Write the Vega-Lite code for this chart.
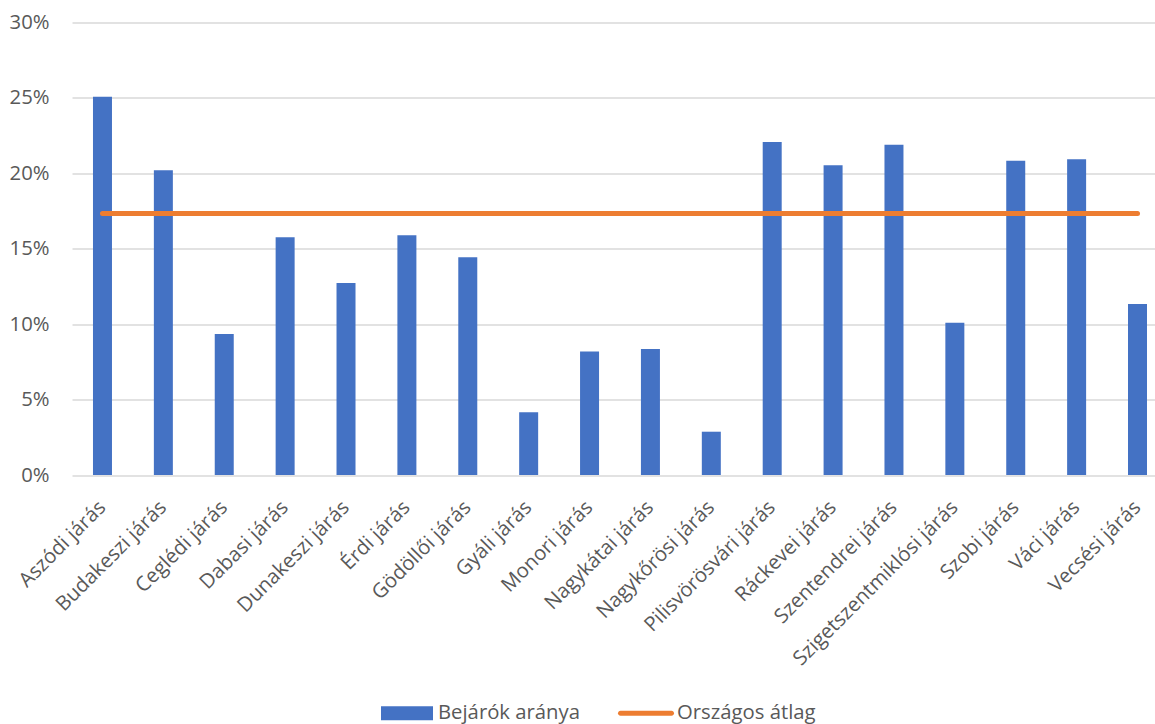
{
  "$schema": "https://vega.github.io/schema/vega-lite/v6.json",
  "width": 1083,
  "height": 452.5,
  "autosize": "none",
  "padding": {"left": 72, "top": 22.5, "right": 0, "bottom": 249},
  "background": "white",
  "config": {"view": {"stroke": null}, "font": "Open Sans"},
  "data": {"values": [
    {"jaras": "Aszódi járás", "bejarok": 0.2507, "atlag": 0.1733},
    {"jaras": "Budakeszi járás", "bejarok": 0.2020, "atlag": 0.1733},
    {"jaras": "Ceglédi járás", "bejarok": 0.0935, "atlag": 0.1733},
    {"jaras": "Dabasi járás", "bejarok": 0.1576, "atlag": 0.1733},
    {"jaras": "Dunakeszi járás", "bejarok": 0.1273, "atlag": 0.1733},
    {"jaras": "Érdi járás", "bejarok": 0.1590, "atlag": 0.1733},
    {"jaras": "Gödöllői járás", "bejarok": 0.1443, "atlag": 0.1733},
    {"jaras": "Gyáli járás", "bejarok": 0.0416, "atlag": 0.1733},
    {"jaras": "Monori járás", "bejarok": 0.0818, "atlag": 0.1733},
    {"jaras": "Nagykátai járás", "bejarok": 0.0836, "atlag": 0.1733},
    {"jaras": "Nagykőrösi járás", "bejarok": 0.0287, "atlag": 0.1733},
    {"jaras": "Pilisvörösvári járás", "bejarok": 0.2208, "atlag": 0.1733},
    {"jaras": "Ráckevei járás", "bejarok": 0.2053, "atlag": 0.1733},
    {"jaras": "Szentendrei járás", "bejarok": 0.2190, "atlag": 0.1733},
    {"jaras": "Szigetszentmiklósi járás", "bejarok": 0.1010, "atlag": 0.1733},
    {"jaras": "Szobi járás", "bejarok": 0.2084, "atlag": 0.1733},
    {"jaras": "Váci járás", "bejarok": 0.2093, "atlag": 0.1733},
    {"jaras": "Vecsési járás", "bejarok": 0.1134, "atlag": 0.1733}
  ]},
  "encoding": {
    "x": {
      "field": "jaras",
      "type": "nominal",
      "sort": null,
      "scale": {"paddingInner": 0.688, "paddingOuter": 0.238, "align": 0.724},
      "axis": {
        "title": null,
        "domain": false,
        "ticks": false,
        "grid": false,
        "labelAngle": -45,
        "labelAlign": "right",
        "labelBaseline": "middle",
        "labelPadding": 29,
        "labelFontSize": 20.3,
        "labelLimit": 0,
        "labelColor": "#595959",
        "labelFont": "Open Sans"
      }
    }
  },
  "layer": [
    {
      "mark": {"type": "bar"},
      "encoding": {
        "y": {
          "field": "bejarok",
          "type": "quantitative",
          "scale": {"domain": [0, 0.3], "nice": false},
          "axis": {
            "title": null,
            "values": [0, 0.05, 0.1, 0.15, 0.2, 0.25, 0.3],
            "format": ".0%",
            "domain": false,
            "ticks": false,
            "labelPadding": 23,
            "labelFontSize": 20.3,
            "labelColor": "#595959",
            "labelFont": "Open Sans",
            "gridColor": "#d9d9d9",
            "gridWidth": 1.5
          }
        },
        "color": {
          "datum": "Bejárók aránya",
          "scale": {"domain": ["Bejárók aránya", "Országos átlag"], "range": ["#4472C4", "#ED7D31"]},
          "legend": {
            "title": null,
            "orient": "none",
            "direction": "horizontal",
            "legendX": 309,
            "legendY": 664.5,
            "symbolSize": 2704,
            "labelFontSize": 20.3,
            "labelColor": "#595959",
            "labelFont": "Open Sans",
            "labelOffset": 5,
            "columnPadding": 37,
            "encode": {
              "symbols": {
                "update": {
                  "shape": {"signal": "datum.label === 'Bejárók aránya' ? 'M-1,-0.269H1V0.269H-1Z' : 'M-0.981,-0.096H0.981A0.096,0.096 0 0 1 0.981,0.096H-0.981A0.096,0.096 0 0 1 -0.981,-0.096Z'"},
                  "fill": {"signal": "datum.label === 'Bejárók aránya' ? '#4472C4' : '#ED7D31'"},
                  "stroke": {"value": null},
                  "strokeWidth": {"value": 0},
                  "opacity": {"value": 1}
                }
              }
            }
          }
        }
      }
    },
    {
      "mark": {"type": "line", "strokeWidth": 5, "strokeCap": "round"},
      "encoding": {
        "y": {"field": "atlag", "type": "quantitative"},
        "color": {"datum": "Országos átlag"}
      }
    }
  ]
}
